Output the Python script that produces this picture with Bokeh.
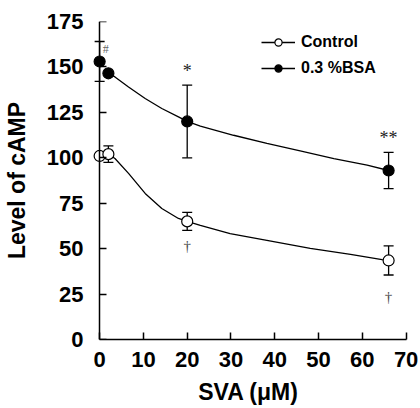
from bokeh.plotting import figure
from bokeh.models import Range1d, Whisker, ColumnDataSource, Legend, LegendItem, TeeHead, FixedTicker, LinearAxis
from bokeh.embed import file_html
from bokeh.resources import INLINE
from bokeh.core.properties import value

# ---- data ----
dose = [0, 2, 20, 66]
control = [101, 102, 65, 43.5]
control_err = [0, 4.5, 5, 8]
bsa = [153, 146.5, 120, 93]
bsa_err = [11, 0, 20, 10]

fit_control_x = [2, 3.5, 6.6, 10.4, 14.2, 18.0, 20, 23.0, 29.8, 38.2, 48.1, 57.3, 64.5, 66]
fit_control_y = [102, 99.6, 91.4, 80.4, 72.1, 66.6, 65, 62.8, 58.3, 54.6, 50.1, 46.9, 44.0, 43.5]
fit_bsa_x = [2, 3.5, 6.6, 10.4, 14.2, 18.0, 20, 23.0, 30.6, 38.2, 45.8, 53.5, 61.1, 66]
fit_bsa_y = [146.5, 144.5, 139, 132.6, 127.1, 122.5, 120, 117.4, 112.4, 107.9, 103.8, 99.6, 95.9, 93]

bsa_marks = ["#", "", "*", "**"]
control_marks = ["", "", "\u2020", "\u2020"]

x_ticks = [0, 10, 20, 30, 40, 50, 60, 70]
y_ticks = [0, 25, 50, 75, 100, 125, 150, 175]
x_title = "SVA (\u03bcM)"
y_title = "Level of cAMP"

FONT = "Liberation Sans"

p = figure(width=420, height=408, x_range=Range1d(-3, 71), y_range=Range1d(0, 175),
           output_backend="svg", toolbar_location=None,
           min_border_left=86, min_border_right=10, min_border_top=21, min_border_bottom=69)
p.xgrid.visible = False
p.ygrid.visible = False
p.outline_line_color = None
p.background_fill_color = "white"

# y axis drawn at x = 0 (line + inward ticks only)
yline = LinearAxis(fixed_location=0, bounds=(0, 175), ticker=FixedTicker(ticks=y_ticks),
                   major_label_text_font_size="0px", major_label_text_color=None)
p.add_layout(yline, "left")

def style(ax):
    ax.major_tick_in = 7
    ax.major_tick_out = 0
    ax.minor_tick_line_color = None
    ax.axis_line_width = 1.5
    ax.major_tick_line_width = 1.5
    ax.axis_line_color = "black"
    ax.major_tick_line_color = "black"
    ax.major_label_text_font = FONT
    ax.major_label_text_font_style = "bold"
    ax.major_label_text_font_size = "22px"
    ax.major_label_text_color = "black"
    ax.axis_label_text_font = FONT
    ax.axis_label_text_font_style = "bold"
    ax.axis_label_text_font_size = "23px"
    ax.axis_label_text_color = "black"

style(p.xaxis[0])
style(p.yaxis[0])
yline.minor_tick_line_color = None
yline.major_tick_in = 7
yline.major_tick_out = 0
yline.axis_line_width = 1.5
yline.major_tick_line_width = 1.5

p.xaxis.ticker = FixedTicker(ticks=x_ticks)
p.xaxis.bounds = (0, 70)
p.xaxis.major_label_standoff = 12
p.xaxis.axis_label = x_title
p.xaxis.axis_label_standoff = 9

# labelled y axis (labels only) on the frame edge
ya = p.yaxis[0]
ya.ticker = FixedTicker(ticks=y_ticks)
ya.bounds = (-4, 175)
ya.axis_line_color = None
ya.major_tick_line_color = None
ya.major_tick_in = 0
ya.major_tick_out = 0
ya.major_label_standoff = 3
ya.axis_label = y_title
ya.axis_label_standoff = 14

# error bars
ci = [i for i, e in enumerate(control_err) if e > 0]
bi = [i for i, e in enumerate(bsa_err) if e > 0]
src_ce = ColumnDataSource(dict(x=[dose[i] for i in ci],
                               up=[control[i] + control_err[i] for i in ci],
                               lo=[control[i] - control_err[i] for i in ci]))
src_be = ColumnDataSource(dict(x=[dose[i] for i in bi],
                               up=[bsa[i] + bsa_err[i] for i in bi],
                               lo=[bsa[i] - bsa_err[i] for i in bi]))
for s in (src_ce, src_be):
    w = Whisker(source=s, base="x", upper="up", lower="lo", dimension="height",
                line_color="black", line_width=1.3, level="underlay",
                upper_head=TeeHead(size=10, line_width=1.3, line_color="black"),
                lower_head=TeeHead(size=10, line_width=1.3, line_color="black"))
    p.add_layout(w)

# fitted curves
lc = p.line(fit_control_x, fit_control_y, line_color="black", line_width=1.3)
lb = p.line(fit_bsa_x, fit_bsa_y, line_color="black", line_width=1.3)

# markers
sc = p.scatter(dose, control, size=11, marker="circle", fill_color="white",
               line_color="black", line_width=1.2)
sb = p.scatter(dose, bsa, size=11, marker="circle", fill_color="black",
               line_color="black", line_width=1.2)

# significance marks
bsa_up = [b + e for b, e in zip(bsa, bsa_err)]
ctl_lo = [c - e for c, e in zip(control, control_err)]
p.text(x=[dose[0]], y=[bsa_up[0]], text=[bsa_marks[0]], x_offset=6, y_offset=8,
       text_font=value("Liberation Serif"), text_font_size="12px", text_color="#666666",
       text_align="center", text_baseline="middle")
p.text(x=dose[2:], y=bsa_up[2:], text=bsa_marks[2:], y_offset=-4,
       text_font=value("Liberation Serif"), text_font_size="18px", text_color="#222222",
       text_align="center", text_baseline="bottom")
p.text(x=dose[2:], y=ctl_lo[2:], text=control_marks[2:], y_offset=[16, 22],
       text_font=value("Liberation Serif"), text_font_size="15px", text_color="#444444",
       text_align="center", text_baseline="middle")

legend = Legend(items=[LegendItem(label="Control", renderers=[lc, sc]),
                       LegendItem(label="0.3 %BSA", renderers=[lb, sb])],
                location=(175, 262), padding=0, margin=0, spacing=8,
                glyph_width=34, glyph_height=18, label_height=18, label_standoff=6,
                border_line_color=None, background_fill_alpha=0,
                label_text_font=FONT, label_text_font_style="bold",
                label_text_font_size="16px", label_text_color="black")
p.add_layout(legend)

open("out.html", "w").write(file_html(p, INLINE))
